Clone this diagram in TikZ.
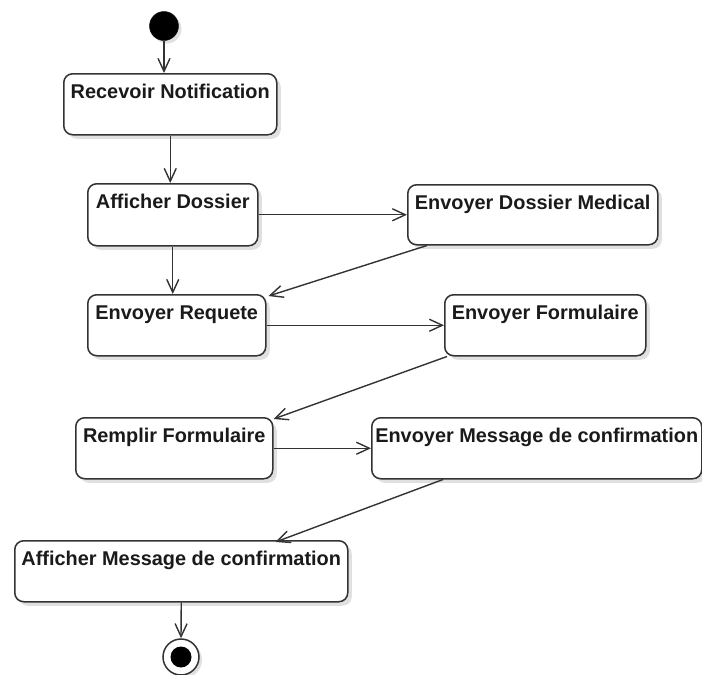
\documentclass[tikz,border=0pt]{standalone}
\usepackage{fontspec}
\setmainfont{Liberation Sans}
\usetikzlibrary{arrows.meta,shadows}
\definecolor{edge}{HTML}{333333}
\definecolor{ink}{HTML}{1A1A1A}
\begin{document}
\begin{tikzpicture}[x=1pt,y=-1pt,
  act/.style={draw=edge, line width=1.5pt, fill=white, rounded corners=9pt,
    anchor=north west, inner sep=0pt,
    drop shadow={shadow xshift=4pt, shadow yshift=-4pt, opacity=0.12, fill=black},
    label distance=0pt},
  txt/.style={label={[anchor=base, yshift=-25.5pt, text=ink,
    font=\fontsize{19.9}{22}\selectfont\bfseries]north:#1}},
  flow/.style={draw=edge, line width=1.4pt,
    -{Straight Barb[length=13pt,width=12pt]}},
  startdot/.style={circle, fill=black, draw=black, minimum size=29pt, inner sep=0pt,
    drop shadow={shadow xshift=3pt, shadow yshift=-3pt, opacity=0.12, fill=black}},
  enddot/.style={circle, draw=edge, line width=1.5pt, fill=white, minimum size=36pt, inner sep=0pt,
    drop shadow={shadow xshift=3pt, shadow yshift=-3pt, opacity=0.12, fill=black}},
]
\useasboundingbox (0,0) rectangle (702,675);

% initial and final states
\node[startdot] (start) at (164,26) {};
\node[enddot] (end) at (181,657) {};
\fill[black] (end.center) circle[radius=10.5];

% activities
\node[act, minimum width=213pt, minimum height=61pt, txt={Recevoir Notification}] (recv) at (63,73) {};
\node[act, minimum width=170pt, minimum height=62pt, txt={Afficher Dossier}] (affd) at (87,183) {};
\node[act, minimum width=250pt, minimum height=60pt, txt={Envoyer Dossier Medical}] (edm) at (407,184) {};
\node[act, minimum width=178pt, minimum height=61pt, txt={Envoyer Requete}] (envr) at (87,294) {};
\node[act, minimum width=201pt, minimum height=61pt, txt={Envoyer Formulaire}] (envf) at (444,294) {};
\node[act, minimum width=197pt, minimum height=61pt, txt={Remplir Formulaire}] (rempf) at (75,417) {};
\node[act, minimum width=330pt, minimum height=61pt, txt={Envoyer Message de confirmation}] (emc) at (371,417) {};
\node[act, minimum width=333pt, minimum height=61pt, txt={Afficher Message de confirmation}] (amc) at (14,540) {};

% control flows
\draw[flow] (start.south) -- (start.south |- recv.north);
\draw[flow] (recv.south) -- (recv.south |- affd.north);
\draw[flow] (affd.east) -- (edm.west);
\draw[flow] (affd.south) -- (affd.south |- envr.north);
\draw[flow] ([xshift=20pt]edm.south west) -- ([xshift=2pt,yshift=-2pt]envr.north east);
\draw[flow] (envr.east) -- (envf.west);
\draw[flow] ([xshift=3pt]envf.south west) -- ([yshift=-2pt]rempf.north east);
\draw[flow] (rempf.east) -- (emc.west);
\draw[flow] ([xshift=72pt]emc.south west) -- ([xshift=-73pt,yshift=-2pt]amc.north east);
\draw[flow] (amc.south) -- (end.north);
\end{tikzpicture}
\end{document}
